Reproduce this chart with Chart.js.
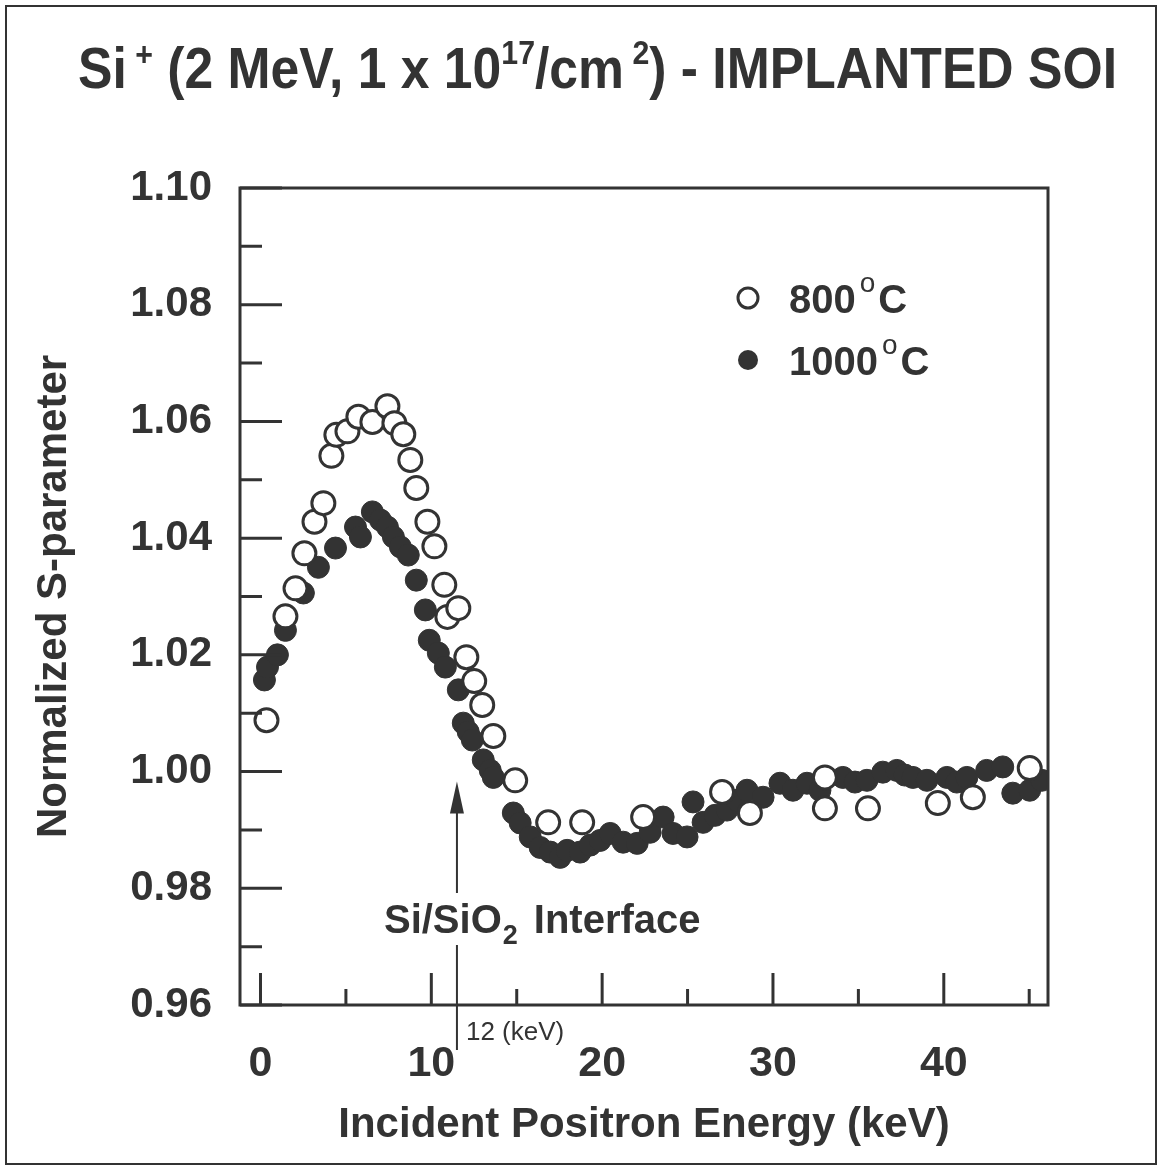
<!DOCTYPE html>
<html>
<head>
<meta charset="utf-8">
<script src="https://cdn.jsdelivr.net/npm/chart.js@4.4.1/dist/chart.umd.min.js"></script>
<style>
  html, body { margin: 0; padding: 0; background: #fff; }
  canvas { display: block; }
</style>
</head>
<body>
<canvas id="chart" width="1162" height="1167"></canvas>
<script>
// tick values
const xTicks = [0, 10, 20, 30, 40];
const xMinor = [5, 15, 25, 35, 45];
const yTicks = [0.96, 0.98, 1.00, 1.02, 1.04, 1.06, 1.08, 1.10];
const yMinor = [0.97, 0.99, 1.01, 1.03, 1.05, 1.07, 1.09];

// 800 C (open circles)
const energy800 = [0.35, 1.46, 2.05, 2.57, 3.16, 3.68, 4.15, 4.44, 5.09, 5.73, 6.55, 7.43, 7.84, 8.36, 8.77,
  9.12, 9.77, 10.18, 10.76, 10.94, 11.58, 12.05, 12.51, 12.98, 13.63, 14.91, 16.84, 18.83, 22.40, 27.02,
  28.65, 33.04, 33.04, 35.56, 39.65, 41.70, 45.03];
const sParam800 = [1.0088, 1.0266, 1.0314, 1.0374, 1.0428, 1.0460, 1.0541, 1.0577, 1.0583, 1.0608, 1.0599, 1.0626, 1.0597, 1.0578, 1.0534,
  1.0486, 1.0428, 1.0386, 1.0320, 1.0265, 1.0280, 1.0196, 1.0155, 1.0114, 1.0061, 0.9985, 0.9913, 0.9913, 0.9922, 0.9965,
  0.9929, 0.9990, 0.9937, 0.9937, 0.9946, 0.9956, 1.0006];

// 1000 C (filled circles)
const energy1000 = [0.23, 0.41, 0.99, 1.46, 2.51, 3.39, 4.39, 5.56, 5.85, 6.55, 7.02, 7.43, 7.78, 8.19, 8.65,
  9.12, 9.65, 9.88, 10.41, 10.82, 11.58, 11.87, 12.16, 12.40, 13.04, 13.45, 13.63, 14.80, 15.20, 15.79,
  16.37, 16.96, 17.54, 17.95, 18.71, 19.30, 19.88, 20.47, 21.23, 22.05, 22.81, 23.57, 24.15, 24.97, 25.32,
  25.91, 26.61, 27.31, 27.89, 28.48, 29.42, 30.41, 31.17, 31.99, 32.75, 34.09, 34.80, 35.50, 36.43, 37.25,
  37.72, 38.19, 39.01, 40.18, 40.76, 41.35, 42.51, 43.45, 44.04, 45.03, 45.73];
const sParam1000 = [1.0157, 1.0179, 1.0200, 1.0242, 1.0306, 1.0350, 1.0383, 1.0419, 1.0402, 1.0445, 1.0431, 1.0419, 1.0402, 1.0385, 1.0371,
  1.0328, 1.0277, 1.0225, 1.0203, 1.0179, 1.0140, 1.0083, 1.0068, 1.0054, 1.0020, 1.0002, 0.9990, 0.9929, 0.9912, 0.9888,
  0.9870, 0.9862, 0.9853, 0.9865, 0.9862, 0.9874, 0.9882, 0.9894, 0.9879, 0.9877, 0.9896, 0.9922, 0.9894, 0.9888, 0.9948,
  0.9913, 0.9925, 0.9934, 0.9951, 0.9968, 0.9956, 0.9980, 0.9968, 0.9980, 0.9968, 0.9990, 0.9982, 0.9985, 0.9999, 1.0002,
  0.9994, 0.9990, 0.9985, 0.9990, 0.9982, 0.9990, 1.0002, 1.0008, 0.9963, 0.9968, 0.9985];

const interfaceAt = 11.5;   // arrow position on the energy axis
const ink = '#333';
const FONT = "'Liberation Sans', Arial, sans-serif";

const toPoints = (xs, ys) => xs.map((x, i) => ({ x: x, y: ys[i] }));

// frame, inward ticks, arrow, legend, title
const decorations = {
  id: 'decorations',
  afterDraw(chart) {
    const ctx = chart.ctx;
    const { left, right, top, bottom } = chart.chartArea;
    const xs = chart.scales.x, ys = chart.scales.y;
    ctx.save();
    ctx.strokeStyle = ink;
    ctx.fillStyle = ink;

    // page border
    ctx.lineWidth = 2;
    ctx.strokeRect(6, 6, 1150, 1158);

    // plot frame
    ctx.lineWidth = 3;
    ctx.strokeRect(left, top, right - left, bottom - top);

    // y ticks
    ctx.beginPath();
    yTicks.forEach(v => { const p = ys.getPixelForValue(v); ctx.moveTo(left, p); ctx.lineTo(left + 42, p); });
    yMinor.forEach(v => { const p = ys.getPixelForValue(v); ctx.moveTo(left, p); ctx.lineTo(left + 22, p); });
    // x ticks
    xTicks.forEach(v => { const p = xs.getPixelForValue(v); ctx.moveTo(p, bottom); ctx.lineTo(p, bottom - 32); });
    xMinor.forEach(v => { const p = xs.getPixelForValue(v); ctx.moveTo(p, bottom); ctx.lineTo(p, bottom - 16); });
    ctx.stroke();

    // interface arrow
    const ax = xs.getPixelForValue(interfaceAt);
    const tip = ys.getPixelForValue(0.9983);
    ctx.lineWidth = 2;
    ctx.beginPath();
    ctx.moveTo(ax, tip + 20); ctx.lineTo(ax, 893);
    ctx.moveTo(ax, 945); ctx.lineTo(ax, bottom + 45);
    ctx.stroke();
    ctx.beginPath();
    ctx.moveTo(ax, tip); ctx.lineTo(ax - 7, tip + 32); ctx.lineTo(ax + 7, tip + 32); ctx.closePath();
    ctx.fill();

    ctx.textBaseline = 'alphabetic';
    ctx.textAlign = 'left';
    // "Si/SiO2 Interface"
    let tx = ax - 73;
    ctx.font = `bold 40px ${FONT}`;
    ctx.fillText('Si/SiO', tx, 933);
    tx += ctx.measureText('Si/SiO').width + 1;
    ctx.font = `bold 27px ${FONT}`;
    ctx.fillText('2', tx, 944);
    tx += ctx.measureText('2').width + 16;
    ctx.font = `bold 40px ${FONT}`;
    ctx.fillText('Interface', tx, 933);

    ctx.font = `26px ${FONT}`;
    ctx.fillText('12 (keV)', ax + 9, 1040);

    // legend
    const legend = [
      { label: '800', y: 298, open: true },
      { label: '1000', y: 360, open: false }
    ];
    legend.forEach(item => {
      ctx.beginPath();
      ctx.arc(748, item.y, 10, 0, Math.PI * 2);
      if (item.open) { ctx.fillStyle = '#fff'; ctx.fill(); ctx.lineWidth = 3; ctx.stroke(); }
      else { ctx.fillStyle = ink; ctx.fill(); }
      ctx.fillStyle = ink;
      let lx = 789;
      ctx.font = `bold 40px ${FONT}`;
      ctx.fillText(item.label, lx, item.y + 15);
      lx += ctx.measureText(item.label).width + 4;
      ctx.font = `28px ${FONT}`;
      ctx.fillText('o', lx, item.y - 6);
      lx += ctx.measureText('o').width + 3;
      ctx.font = `bold 40px ${FONT}`;
      ctx.fillText('C', lx, item.y + 15);
    });

    // title with superscripts, squeezed to the reference width
    const parts = [
      { t: 'Si', s: 58, dy: 0 },
      { t: ' +', s: 34, dy: -22 },
      { t: ' (2 MeV, 1 x 10', s: 58, dy: 0 },
      { t: '17', s: 34, dy: -24 },
      { t: '/cm', s: 58, dy: 0 },
      { t: ' 2', s: 34, dy: -24 },
      { t: ') - IMPLANTED SOI', s: 58, dy: 0 }
    ];
    let total = 0;
    parts.forEach(p => { ctx.font = `bold ${p.s}px ${FONT}`; p.w = ctx.measureText(p.t).width; total += p.w; });
    const sx = (1117 - 78) / total;
    ctx.translate(78, 88);
    ctx.scale(sx, 1);
    let px = 0;
    parts.forEach(p => {
      ctx.font = `bold ${p.s}px ${FONT}`;
      ctx.fillText(p.t, px, p.dy);
      px += p.w;
    });
    ctx.restore();
  }
};

new Chart(document.getElementById('chart'), {
  type: 'scatter',
  data: {
    datasets: [
      {
        label: '800°C',
        data: toPoints(energy800, sParam800),
        pointRadius: 11.5,
        pointBorderWidth: 3,
        pointBackgroundColor: '#fff',
        pointBorderColor: ink
      },
      {
        label: '1000°C',
        data: toPoints(energy1000, sParam1000),
        pointRadius: 11,
        pointBorderWidth: 1,
        pointBackgroundColor: ink,
        pointBorderColor: ink
      }
    ]
  },
  options: {
    responsive: false,
    animation: false,
    layout: { padding: { top: 188, right: 114, bottom: 0, left: 0 } },
    plugins: {
      legend: { display: false },
      tooltip: { enabled: false }
    },
    scales: {
      x: {
        type: 'linear',
        min: -1.2,
        max: 46.1,
        afterBuildTicks: s => { s.ticks = xTicks.map(v => ({ value: v })); },
        afterFit: s => { s.height = 162; },
        grid: { display: false },
        border: { display: false },
        ticks: {
          padding: 25,
          color: ink,
          font: { family: FONT, size: 43, weight: 'bold' },
          maxRotation: 0
        },
        title: {
          display: true,
          text: 'Incident Positron Energy (keV)',
          color: ink,
          font: { family: FONT, size: 42, weight: 'bold' },
          padding: { top: 0, bottom: 16 }
        }
      },
      y: {
        min: 0.96,
        max: 1.10,
        afterBuildTicks: s => { s.ticks = yTicks.map(v => ({ value: v })); },
        afterFit: s => { s.width = 240; },
        grid: { display: false },
        border: { display: false },
        ticks: {
          padding: 20,
          color: ink,
          font: { family: FONT, size: 42, weight: 'bold' },
          callback: v => v.toFixed(2)
        },
        title: {
          display: true,
          text: 'Normalized S-parameter',
          color: ink,
          font: { family: FONT, size: 42, weight: 'bold' },
          padding: { top: 29, bottom: 0 }
        }
      }
    }
  },
  plugins: [decorations]
});
</script>
</body>
</html>
